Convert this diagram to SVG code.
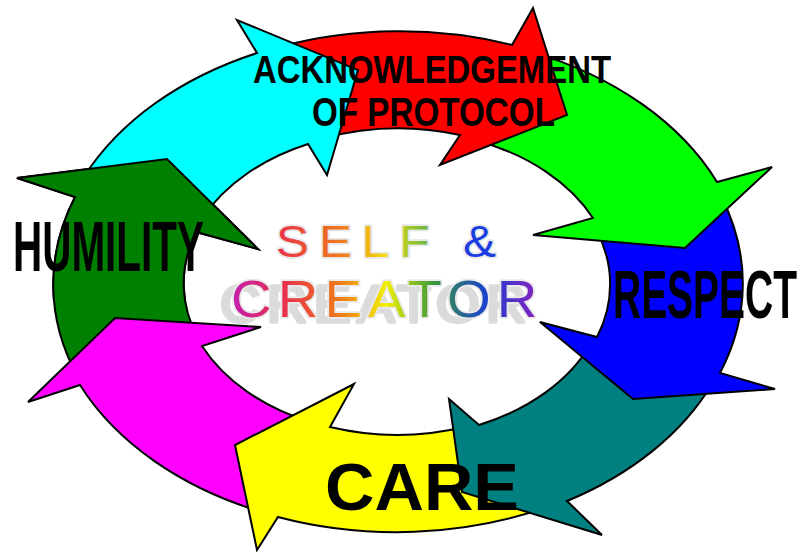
<svg xmlns="http://www.w3.org/2000/svg" width="803" height="552" viewBox="0 0 803 552">
<style>
.arrow { stroke: #000; stroke-width: 2; stroke-linejoin: miter; }
.label { font-family: "Liberation Sans", Arial, sans-serif; font-weight: bold; fill: #000; }
.center { font-family: "Liberation Sans", Arial, sans-serif; font-weight: normal; stroke: #e8e8e8; stroke-width: 3.5; paint-order: stroke fill; stroke-linejoin: round; }
</style>
<defs>
<linearGradient id="gSelf" gradientUnits="userSpaceOnUse" x1="0" y1="0" x2="200" y2="0">
<stop offset="0" stop-color="#e8304a"/>
<stop offset="0.3" stop-color="#f07a1a"/>
<stop offset="0.5" stop-color="#f0e010"/>
<stop offset="0.68" stop-color="#70b840"/>
<stop offset="0.85" stop-color="#1a3ce0"/>
<stop offset="1" stop-color="#1a3ce0"/>
</linearGradient>
<linearGradient id="gCreator" gradientUnits="userSpaceOnUse" x1="0" y1="0" x2="288" y2="0">
<stop offset="0" stop-color="#c21eb0"/>
<stop offset="0.17" stop-color="#e8304a"/>
<stop offset="0.35" stop-color="#f07a1a"/>
<stop offset="0.5" stop-color="#f0f000"/>
<stop offset="0.65" stop-color="#3a9a3a"/>
<stop offset="0.82" stop-color="#1a40d0"/>
<stop offset="1" stop-color="#9020c0"/>
</linearGradient>
<filter id="shadow" x="-15%" y="-30%" width="130%" height="180%">
<feFlood flood-color="#cfcfcf" flood-opacity="0.75" result="f"/>
<feComposite in="f" in2="SourceAlpha" operator="in" result="s"/>
<feOffset in="s" dx="-11" dy="5" result="o"/>
<feGaussianBlur in="o" stdDeviation="0.6" result="b"/>
<feMerge><feMergeNode in="b"/><feMergeNode in="SourceGraphic"/></feMerge>
</filter>
<clipPath id="topClip"><rect x="0" y="0" width="400" height="300"/></clipPath>
</defs>

<g id="connectors">
<g id="arrow-humility">
<path class="arrow" fill="#008000" d="M77.1,375.7 A345,250 0 0 1 75,197 L17,178 L167,159 L258,249 L196,232 A213,153 0 0 0 198.5,339.3 Z"/>
</g>
<g id="arrow-magenta">
<path class="arrow" fill="#ff00ff" d="M262.2,512.1 A345,250 0 0 1 80,385 L28,402 L115,318 L261,327 L202,346 A213,153 0 0 0 312.8,422.8 Z"/>
</g>
<g id="arrow-care">
<path class="arrow" fill="#ffff00" d="M548.2,506.7 A345,250 0 0 1 278,517 L257,550 L235,445 L354,384 L330,427 A213,153 0 0 0 465.3,426.7 Z"/>
</g>
<g id="arrow-teal">
<path class="arrow" fill="#008080" d="M712.2,383.7 A345,250 0 0 1 567,501 L602,535 L462,492 L449,399 L479,425 A213,153 0 0 0 590.6,344.2 Z"/>
</g>
<g id="arrow-respect">
<path class="arrow" fill="#0000ff" d="M721.2,196.5 A345,250 0 0 1 720,373 L775,389 L633,399 L540,322 L597,337 A213,153 0 0 0 596.2,229.7 Z"/>
</g>
<g id="arrow-green">
<path class="arrow" fill="#00ff00" d="M531.8,51.9 A345,250 0 0 1 717,182 L772,167 L685,248 L533,235 L593,218 A213,153 0 0 0 479.2,141.2 Z"/>
</g>
<g id="arrow-protocol">
<path class="arrow" fill="#ff0000" d="M279,47.1 A345,250 0 0 1 512,45 L533,8 L567,115 L440,165 L460,135 A213,153 0 0 0 323.2,138.2 Z"/>
</g>
<g id="arrow-cyan">
<path class="arrow" fill="#00ffff" d="M84.3,176.3 A345,250 0 0 1 257,53 L237,20 L358,70 L327,175 L308,144 A213,153 0 0 0 203,217.3 Z"/>
</g>
<g id="arrow-humility-head" clip-path="url(#topClip)">
<path class="arrow" fill="#008000" d="M77.1,375.7 A345,250 0 0 1 75,197 L17,178 L167,159 L258,249 L196,232 A213,153 0 0 0 198.5,339.3 Z"/>
</g>
</g>

<g id="node-center">
<text class="center" transform="translate(276,257) scale(1.1,1)" x="0" y="0" font-size="45" letter-spacing="9" fill="url(#gSelf)">SELF &amp;</text>
<g filter="url(#shadow)">
<text class="center" transform="translate(231,317) scale(1.08,1)" x="0" y="0" font-size="52" letter-spacing="5.7" fill="url(#gCreator)">CREATOR</text>
</g>
</g>

<g id="node-protocol">
<text class="label" x="253" y="83" font-size="39" textLength="358" lengthAdjust="spacingAndGlyphs">ACKNOWLEDGEMENT</text>
<text class="label" x="312" y="126" font-size="41" textLength="243" lengthAdjust="spacingAndGlyphs">OF PROTOCOL</text>
</g>
<g id="node-humility">
<text class="label" x="13" y="271" font-size="70" textLength="191" lengthAdjust="spacingAndGlyphs">HUMILITY</text>
</g>
<g id="node-respect">
<text class="label" x="613" y="318" font-size="69" textLength="184" lengthAdjust="spacingAndGlyphs">RESPECT</text>
</g>
<g id="node-care">
<text class="label" x="325" y="510" font-size="67" textLength="194" lengthAdjust="spacingAndGlyphs">CARE</text>
</g>
</svg>
